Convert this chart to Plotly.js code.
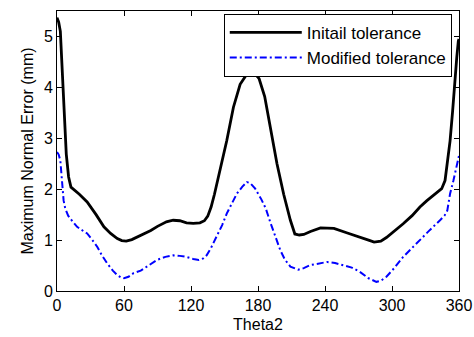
<!DOCTYPE html>
<html>
<head>
<meta charset="utf-8">
<script src="https://cdn.plot.ly/plotly-3.0.1.min.js"></script>
<style>html,body{margin:0;padding:0;background:#fff;}#chart{width:474px;height:337px;}</style>
</head>
<body>
<div id="chart"></div>
<script>
// Theta2 (deg) and Maximum Normal Error (mm)
var thetaInitial = [0, 1.5, 3, 4.5, 5.4, 6.8, 8.3, 10.4, 12.5, 20, 27, 35, 42, 48, 54, 58, 62, 67, 72, 78, 84, 90, 98, 104, 110, 116, 122, 128, 132, 135, 138, 141, 146, 152, 158, 164, 170, 174.5, 178, 181, 186, 191, 197, 203, 209, 213, 217, 221, 227, 236, 248, 260, 271, 279, 284, 290, 295, 302, 310, 318, 325, 331, 337, 344.5, 347.5, 349.5, 352, 354.3, 356.4, 358, 359.4, 360];
var errInitial = [5.37, 5.28, 5.10, 4.39, 3.87, 3.41, 2.69, 2.24, 2.04, 1.90, 1.75, 1.50, 1.26, 1.13, 1.03, 0.99, 0.98, 1.01, 1.06, 1.12, 1.19, 1.27, 1.36, 1.39, 1.38, 1.34, 1.33, 1.34, 1.38, 1.47, 1.65, 1.90, 2.37, 2.95, 3.61, 4.06, 4.26, 4.29, 4.25, 4.17, 3.82, 3.25, 2.50, 1.90, 1.39, 1.12, 1.10, 1.11, 1.17, 1.24, 1.23, 1.14, 1.05, 1.00, 0.96, 0.98, 1.05, 1.17, 1.32, 1.48, 1.65, 1.77, 1.88, 2.01, 2.17, 2.50, 2.95, 3.54, 4.19, 4.59, 4.91, 4.95];

var thetaModified = [0, 1.5, 3, 4.5, 5.9, 7.4, 10, 12, 18, 22, 27, 31, 36, 40, 45, 50, 54, 57, 60, 64, 68.5, 75, 80.5, 89.5, 97, 104, 110, 116, 122, 127, 131, 134, 138, 143, 148, 152, 157, 161, 166, 170, 173, 177.5, 183, 187, 191, 195, 200, 204, 209, 216, 221, 227, 235, 242, 249, 256, 264, 271, 279, 286, 290, 295, 302, 310, 318, 325, 334, 343, 347, 349.5, 352, 355, 358, 359.4, 360];
var errModified = [2.73, 2.68, 2.56, 2.17, 1.78, 1.62, 1.48, 1.42, 1.26, 1.20, 1.13, 1.02, 0.87, 0.71, 0.54, 0.40, 0.31, 0.27, 0.25, 0.28, 0.35, 0.40, 0.48, 0.61, 0.67, 0.70, 0.69, 0.67, 0.63, 0.61, 0.64, 0.70, 0.85, 1.06, 1.30, 1.52, 1.75, 1.91, 2.05, 2.14, 2.12, 2.01, 1.80, 1.62, 1.35, 1.10, 0.80, 0.62, 0.48, 0.42, 0.45, 0.51, 0.55, 0.57, 0.55, 0.51, 0.46, 0.38, 0.25, 0.18, 0.20, 0.28, 0.45, 0.67, 0.85, 1.00, 1.20, 1.39, 1.48, 1.58, 1.91, 2.17, 2.50, 2.63, 2.66];

var seriesNames = ["Initail tolerance", "Modified tolerance"];
var xTicks = [0, 60, 120, 180, 240, 300, 360];
var yTicks = [0, 1, 2, 3, 4, 5];

var FONT = "Liberation Sans, Arial, Helvetica, sans-serif";

var traces = [
  {x: thetaInitial, y: errInitial, name: seriesNames[0], mode: "lines",
   line: {color: "#000000", width: 2.8}},
  {x: thetaModified, y: errModified, name: seriesNames[1], mode: "lines",
   line: {color: "#0000ff", width: 2, dash: "7px,3px,2px,3px"}}
];

var axisCommon = {
  showline: true, linecolor: "#000", linewidth: 1, mirror: "ticks",
  ticks: "inside", ticklen: 5, tickcolor: "#000", tickwidth: 1,
  showgrid: false, zeroline: false,
  tickfont: {family: FONT, size: 16, color: "#000"}
};

var layout = {
  width: 474, height: 337,
  margin: {l: 57, r: 15, t: 11, b: 46},
  paper_bgcolor: "#fff", plot_bgcolor: "#fff",
  font: {family: FONT, color: "#000"},
  showlegend: true,
  legend: {
    x: 0.982, y: 0.99, xanchor: "right", yanchor: "top",
    bgcolor: "#fff", bordercolor: "#000", borderwidth: 1,
    font: {family: FONT, size: 17, color: "#000"},
    itemwidth: 72, tracegroupgap: 0
  },
  xaxis: Object.assign({}, axisCommon, {
    range: [0, 360], tickvals: xTicks, ticktext: xTicks.map(String),
    title: {text: "Theta2", font: {family: FONT, size: 16, color: "#000"}, standoff: 5}
  }),
  yaxis: Object.assign({}, axisCommon, {
    range: [0, 5.5], tickvals: yTicks, ticktext: yTicks.map(String),
    title: {text: "Maximum Normal Error (mm)", font: {family: FONT, size: 16, color: "#000"}, standoff: 6}
  })
};

Plotly.newPlot("chart", traces, layout, {displayModeBar: false, staticPlot: true});
</script>
</body>
</html>
